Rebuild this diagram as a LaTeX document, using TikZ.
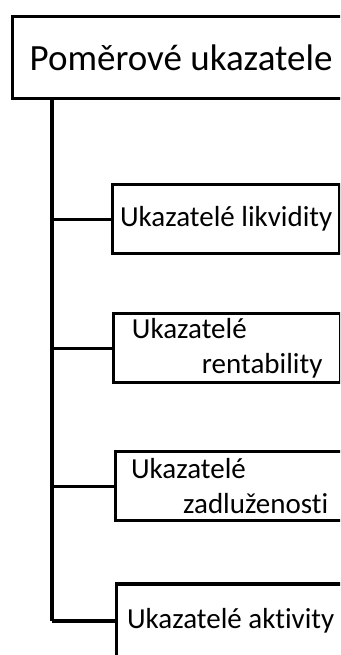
\documentclass[tikz,border=0pt]{standalone}
\usepackage{fontspec}
\setmainfont{Carlito}[Ligatures=NoCommon]
\usetikzlibrary{positioning}

\begin{document}
\begin{tikzpicture}[x=1pt,y=1pt,line width=3.4pt,
    main node/.style={rectangle,draw,anchor=north west,inner xsep=17pt,minimum height=82pt,
      font=\fontsize{37}{44}\selectfont},
    small node/.style={rectangle,draw,anchor=north west,align=left,inner sep=2pt,minimum width=227pt,
      minimum height=69pt,font=\fontsize{29}{35}\selectfont}]
    \useasboundingbox (0,0) rectangle (340,-655);
    \clip (0,0) rectangle (340,-655);
    \node[main node] (ratio) at (11,-15) {Pom\v{e}rov\'e ukazatele};

      \node[small node] (liq) at (111,-183) {Ukazatel\'e likvidity};
      \node[small node] (ren) at (112,-312) {Ukazatel\'e\\\hspace*{70pt}rentability};
      \node[small node,minimum width=228pt] (debt) at (114,-450) {Ukazatel\'e\\\hspace*{52pt}zadlu\v{z}enosti};
      \node[small node,anchor=west,minimum width=228pt,minimum height=74pt] (act) at (115,-621) {Ukazatel\'e aktivity};

      %trunk
      \path (ratio.south west) ++(41,0) coordinate (trunk);
      \draw (trunk) -- (trunk |- act.west);
       \draw (trunk |- liq.west) -- (liq.west);
       \draw (trunk |- ren.west) -- (ren.west);
       \draw (trunk |- debt.west) -- (debt.west);
       \draw (trunk |- act.west) -- (act.west);
  \end{tikzpicture}
\end{document}
